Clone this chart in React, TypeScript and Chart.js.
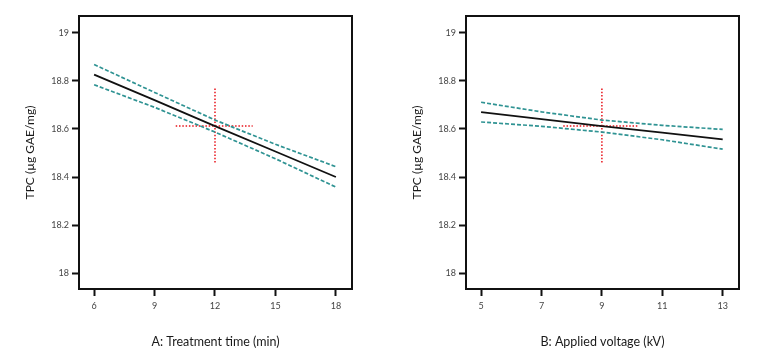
import React, { useEffect, useRef } from "react";
import { Chart, registerables } from "chart.js";

Chart.register(...registerables);

// ---- Data ----
const yTicks = [18, 18.2, 18.4, 18.6, 18.8, 19];
const yTitle = "TPC (µg GAE/mg)";

const timeTicks = [6, 9, 12, 15, 18];
const timeX = [6, 9, 12, 15, 18];
const timePred = [18.826, 18.72, 18.612, 18.506, 18.4];
const timeUpper = [18.868, 18.752, 18.637, 18.536, 18.443];
const timeLower = [18.784, 18.69, 18.587, 18.476, 18.358];
const timeCrossV = [
  { x: 12, y: 18.46 },
  { x: 12, y: 18.774 },
];
const timeCrossH = [
  { x: 10.05, y: 18.612 },
  { x: 13.87, y: 18.612 },
];
const timeTitle = "A: Treatment time (min)";

const voltTicks = [5, 7, 9, 11, 13];
const voltX = [5, 7, 9, 11, 13];
const voltPred = [18.67, 18.641, 18.612, 18.585, 18.557];
const voltUpper = [18.711, 18.671, 18.637, 18.615, 18.598];
const voltLower = [18.629, 18.611, 18.587, 18.555, 18.516];
const voltCrossV = [
  { x: 9, y: 18.46 },
  { x: 9, y: 18.774 },
];
const voltCrossH = [
  { x: 7.72, y: 18.612 },
  { x: 10.23, y: 18.612 },
];
const voltTitle = "B: Applied voltage (kV)";

const W = 389;
const H = 349;

const boxPlugin = {
  id: "box",
  afterDraw(chart: any) {
    const { ctx, chartArea } = chart;
    ctx.save();
    ctx.strokeStyle = "#111";
    ctx.lineWidth = 2;
    ctx.strokeRect(chartArea.left, chartArea.top, chartArea.right - chartArea.left, chartArea.bottom - chartArea.top);
    ctx.restore();
  },
};

type PanelProps = {
  xs: number[];
  pred: number[];
  upper: number[];
  lower: number[];
  crossV: { x: number; y: number }[];
  crossH: { x: number; y: number }[];
  xTicks: number[];
  xMin: number;
  xMax: number;
  xTitle: string;
  areaLeft: number;
  areaRight: number;
  yTitleX: number;
};

function Panel(p: PanelProps) {
  const ref = useRef<HTMLCanvasElement>(null);
  useEffect(() => {
    if (!ref.current) return;
    const pts = (ys: number[]) => p.xs.map((x, i) => ({ x, y: ys[i] }));
    const teal = "#2f9393";
    const red = "#e8141b";
    const tickFont = { family: "Lato", size: 9 };
    const chart = new Chart(ref.current, {
      type: "scatter",
      data: {
        datasets: [
          { data: pts(p.upper), showLine: true, borderColor: teal, borderWidth: 1.7, borderDash: [4, 2], pointRadius: 0 },
          { data: pts(p.lower), showLine: true, borderColor: teal, borderWidth: 1.7, borderDash: [4, 2], pointRadius: 0 },
          { data: pts(p.pred), showLine: true, borderColor: "#111", borderWidth: 1.8, pointRadius: 0 },
          { data: p.crossV, showLine: true, borderColor: red, borderWidth: 1.5, borderDash: [1.5, 1.8], pointRadius: 0 },
          { data: p.crossH, showLine: true, borderColor: red, borderWidth: 1.5, borderDash: [1.5, 1.8], pointRadius: 0 },
        ],
      },
      options: {
        responsive: false,
        animation: false,
        layout: { padding: { top: 16, right: W - p.areaRight, left: 0, bottom: 0 } },
        plugins: { legend: { display: false }, tooltip: { enabled: false } },
        scales: {
          x: {
            type: "linear",
            min: p.xMin,
            max: p.xMax,
            afterBuildTicks: (s: any) => {
              s.ticks = p.xTicks.map((v) => ({ value: v }));
            },
            afterFit: (s: any) => {
              s.height = H - 289;
            },
            grid: { drawOnChartArea: false, drawTicks: true, tickLength: 7, tickColor: "#111", tickWidth: 2 },
            border: { display: false },
            ticks: { font: tickFont, color: "#444", padding: 5, maxRotation: 0 },
            title: {
              display: true,
              text: p.xTitle,
              font: { family: "Lato", size: 12.5 },
              color: "#1a1a1a",
              padding: { top: 0, bottom: 0 },
            },
          },
          y: {
            type: "linear",
            min: 17.934,
            max: 19.07,
            afterBuildTicks: (s: any) => {
              s.ticks = yTicks.map((v) => ({ value: v }));
            },
            afterFit: (s: any) => {
              s.width = p.areaLeft;
            },
            grid: { drawOnChartArea: false, drawTicks: true, tickLength: 7, tickColor: "#111", tickWidth: 2 },
            border: { display: false },
            ticks: { font: tickFont, color: "#444", padding: 3, callback: (v: any) => String(v) },
            title: {
              display: true,
              text: yTitle,
              font: { family: "Lato", size: 12 },
              color: "#1a1a1a",
              padding: { top: p.yTitleX - 7.2, bottom: 0 },
            },
          },
        },
      },
      plugins: [boxPlugin],
    });
    return () => chart.destroy();
  }, []);
  return <canvas ref={ref} width={W} height={H} style={{ display: "block", width: W, height: H }} />;
}

export default function App() {
  return (
    <div style={{ position: "fixed", left: 0, top: 0, width: 778, height: 349, background: "#fff", display: "flex" }}>
      <Panel
        xs={timeX}
        pred={timePred}
        upper={timeUpper}
        lower={timeLower}
        crossV={timeCrossV}
        crossH={timeCrossH}
        xTicks={timeTicks}
        xMin={5.25}
        xMax={18.8}
        xTitle={timeTitle}
        areaLeft={79}
        areaRight={352}
        yTitleX={30}
      />
      <Panel
        xs={voltX}
        pred={voltPred}
        upper={voltUpper}
        lower={voltLower}
        crossV={voltCrossV}
        crossH={voltCrossH}
        xTicks={voltTicks}
        xMin={4.5}
        xMax={13.54}
        xTitle={voltTitle}
        areaLeft={77}
        areaRight={350}
        yTitleX={28}
      />
    </div>
  );
}
